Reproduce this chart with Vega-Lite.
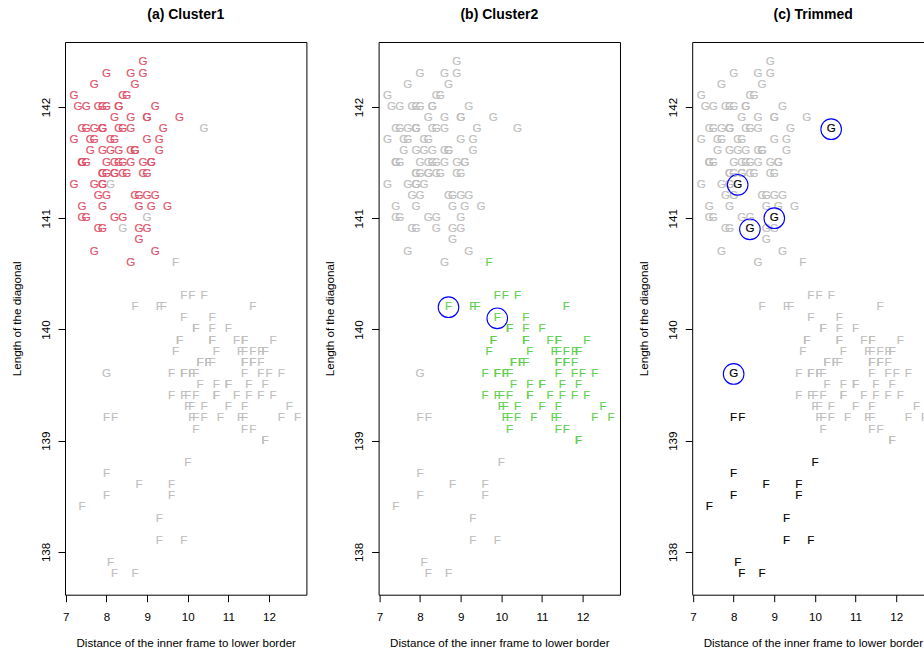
{
  "$schema": "https://vega.github.io/schema/vega-lite/v6.json",
  "padding": {"left": 10, "top": 7, "right": 0, "bottom": 0},
  "spacing": 71.6,
  "bounds": "flush",
  "resolve": {"scale": {"color": "independent", "stroke": "independent", "x": "independent", "y": "independent"}},
  "config": {
    "font": "Liberation Sans",
    "view": {"stroke": "#000000", "strokeWidth": 1},
    "axis": {"grid": false, "domainColor": "#000000", "domainWidth": 1, "ticks": true, "tickColor": "#000000", "tickSize": 7, "tickWidth": 1, "labelFont": "Liberation Sans", "labelFontSize": 11.6, "labelColor": "#000000", "titleFont": "Liberation Sans", "titleFontSize": 11.6, "titleFontWeight": "normal", "titleColor": "#000000", "labelFlush": false, "labelOverlap": false},
    "axisY": {"labelAngle": 270, "labelAlign": "center", "labelBaseline": "alphabetic", "labelPadding": 9, "titleAngle": 270, "titleAlign": "center", "titleBaseline": "alphabetic", "titleX": -44.7, "titleY": 276.35},
    "title": {"font": "Liberation Sans", "fontSize": 14, "fontWeight": "bold", "color": "#000000", "baseline": "alphabetic", "offset": 20.3}
  },
  "datasets": {
    "notes": [
      {"x":8.1,"y":141.7,"l":"G","g":"C1"},{"x":8.7,"y":142.2,"l":"G","g":"C1"},{"x":7.5,"y":142.0,"l":"G","g":"C1"},{"x":9.0,"y":141.4,"l":"G","g":"C1"},{"x":7.9,"y":141.6,"l":"G","g":"C1"},
      {"x":7.2,"y":141.7,"l":"G","g":"C1"},{"x":8.2,"y":141.9,"l":"G","g":"C1"},{"x":9.2,"y":140.7,"l":"G","g":"C1"},{"x":7.9,"y":141.8,"l":"G","g":"C1"},{"x":7.7,"y":142.2,"l":"G","g":"C1"},
      {"x":7.9,"y":141.4,"l":"G","g":"C1"},{"x":7.7,"y":141.7,"l":"G","g":"C1"},{"x":7.7,"y":141.8,"l":"G","g":"C1"},{"x":9.3,"y":141.6,"l":"G","g":"C1"},{"x":8.2,"y":141.7,"l":"G","g":"C1"},
      {"x":9.0,"y":141.9,"l":"G","g":"C1"},{"x":7.4,"y":141.5,"l":"G","g":"C1"},{"x":8.6,"y":141.9,"l":"G","g":"C1"},{"x":8.4,"y":141.4,"l":"G","g":"C1"},{"x":8.1,"y":141.6,"l":"G","g":"C1"},
      {"x":8.4,"y":141.5,"l":"G","g":"C1"},{"x":8.7,"y":141.6,"l":"G","g":"C1"},{"x":7.4,"y":141.1,"l":"G","g":"C1"},{"x":8.0,"y":142.3,"l":"G","g":"C1"},{"x":8.9,"y":142.4,"l":"G","g":"C1"},
      {"x":9.8,"y":141.9,"l":"G","g":"C1"},{"x":7.4,"y":141.8,"l":"G","g":"C1"},{"x":8.3,"y":142.0,"l":"G","g":"C1"},{"x":7.9,"y":141.8,"l":"G","g":"C1"},{"x":8.6,"y":142.3,"l":"G","g":"C1"},
      {"x":7.7,"y":140.7,"l":"G","g":"C1"},{"x":8.4,"y":141.0,"l":"G","g":"C1"},{"x":8.9,"y":141.4,"l":"G","g":"C1"},{"x":9.4,"y":141.8,"l":"G","g":"C1"},{"x":8.4,"y":141.8,"l":"G","g":"C1"},
      {"x":7.9,"y":142.0,"l":"G","g":"C1"},{"x":8.5,"y":142.1,"l":"G","g":"C1"},{"x":8.9,"y":142.3,"l":"G","g":"C1"},{"x":8.8,"y":140.9,"l":"G","g":"C1"},{"x":9.3,"y":141.7,"l":"G","g":"C1"},
      {"x":9.0,"y":140.9,"l":"G","g":"C1"},{"x":8.2,"y":141.0,"l":"G","g":"C1"},{"x":8.3,"y":141.8,"l":"G","g":"C1"},{"x":8.3,"y":141.5,"l":"G","g":"C1"},{"x":7.3,"y":142.0,"l":"G","g":"C1"},
      {"x":7.9,"y":141.1,"l":"G","g":"C1"},{"x":7.8,"y":142.0,"l":"G","g":"C1"},{"x":7.2,"y":141.3,"l":"G","g":"C1"},{"x":9.5,"y":141.1,"l":"G","g":"C1"},{"x":7.8,"y":140.9,"l":"G","g":"C1"},
      {"x":7.6,"y":141.6,"l":"G","g":"C1"},{"x":7.9,"y":141.4,"l":"G","g":"C1"},{"x":9.2,"y":142.0,"l":"G","g":"C1"},{"x":9.2,"y":141.2,"l":"G","g":"C1"},{"x":8.8,"y":141.1,"l":"G","g":"C1"},
      {"x":7.9,"y":141.3,"l":"G","g":"C1"},{"x":8.2,"y":141.4,"l":"G","g":"C1"},{"x":8.3,"y":141.6,"l":"G","g":"C1"},{"x":7.5,"y":141.5,"l":"G","g":"C1"},{"x":8.0,"y":141.5,"l":"G","g":"C1"},
      {"x":8.0,"y":141.4,"l":"G","g":"C1"},{"x":8.6,"y":141.5,"l":"G","g":"C1"},{"x":8.8,"y":140.8,"l":"G","g":"C1"},{"x":7.7,"y":141.3,"l":"G","g":"C1"},{"x":9.1,"y":141.5,"l":"G","g":"C1"},
      {"x":8.6,"y":141.8,"l":"G","g":"C1"},{"x":8.2,"y":141.4,"l":"G","g":"C1"},{"x":8.7,"y":141.2,"l":"G","g":"C1"},{"x":7.5,"y":141.8,"l":"G","g":"C1"},{"x":7.2,"y":142.1,"l":"G","g":"C1"},
      {"x":7.6,"y":141.7,"l":"G","g":"C1"},{"x":8.8,"y":141.2,"l":"G","g":"C1"},{"x":7.4,"y":141.0,"l":"G","g":"C1"},{"x":7.9,"y":140.9,"l":"G","g":"C1"},{"x":7.9,"y":141.8,"l":"G","g":"C1"},
      {"x":8.6,"y":140.6,"l":"G","g":"C1"},{"x":7.5,"y":141.0,"l":"G","g":"C1"},{"x":9.0,"y":141.9,"l":"G","g":"C1"},{"x":7.9,"y":141.3,"l":"G","g":"C1"},{"x":9.0,"y":141.2,"l":"G","g":"C1"},
      {"x":8.9,"y":141.5,"l":"G","g":"C1"},{"x":8.7,"y":141.6,"l":"G","g":"C1"},{"x":8.4,"y":142.1,"l":"G","g":"C1"},{"x":7.4,"y":141.5,"l":"G","g":"C1"},{"x":8.0,"y":142.0,"l":"G","g":"C1"},
      {"x":8.6,"y":141.6,"l":"G","g":"C1"},{"x":8.5,"y":141.4,"l":"G","g":"C1"},{"x":8.2,"y":141.5,"l":"G","g":"C1"},{"x":7.4,"y":141.5,"l":"G","g":"C1"},{"x":8.3,"y":142.0,"l":"G","g":"C1"},
      {"x":9.0,"y":141.7,"l":"G","g":"C1"},{"x":9.1,"y":141.1,"l":"G","g":"C1"},{"x":8.0,"y":141.2,"l":"G","g":"C1"},{"x":9.1,"y":141.5,"l":"G","g":"C1"},{"x":7.8,"y":141.2,"l":"G","g":"C1"},

      {"x":9.7,"y":140.6,"l":"F","g":"C2"},
      {"x":9.9,"y":140.3,"l":"F","g":"C2"},{"x":10.1,"y":140.3,"l":"F","g":"C2"},{"x":10.4,"y":140.3,"l":"F","g":"C2"},
      {"x":8.7,"y":140.2,"l":"F","g":"C2o"},{"x":9.3,"y":140.2,"l":"F","g":"C2"},{"x":9.4,"y":140.2,"l":"F","g":"C2"},{"x":11.6,"y":140.2,"l":"F","g":"C2"},
      {"x":9.9,"y":140.1,"l":"F","g":"C2o"},{"x":10.6,"y":140.1,"l":"F","g":"C2"},
      {"x":10.2,"y":140.0,"l":"F","g":"C2"},{"x":10.2,"y":140.0,"l":"F","g":"C2"},{"x":10.6,"y":140.0,"l":"F","g":"C2"},{"x":11.0,"y":140.0,"l":"F","g":"C2"},
      {"x":9.8,"y":139.9,"l":"F","g":"C2"},{"x":9.8,"y":139.9,"l":"F","g":"C2"},{"x":10.6,"y":139.9,"l":"F","g":"C2"},{"x":10.6,"y":139.9,"l":"F","g":"C2"},{"x":11.2,"y":139.9,"l":"F","g":"C2"},{"x":11.4,"y":139.9,"l":"F","g":"C2"},{"x":11.4,"y":139.9,"l":"F","g":"C2"},{"x":12.1,"y":139.9,"l":"F","g":"C2"},
      {"x":9.7,"y":139.8,"l":"F","g":"C2"},{"x":10.7,"y":139.8,"l":"F","g":"C2"},{"x":11.3,"y":139.8,"l":"F","g":"C2"},{"x":11.4,"y":139.8,"l":"F","g":"C2"},{"x":11.6,"y":139.8,"l":"F","g":"C2"},{"x":11.8,"y":139.8,"l":"F","g":"C2"},{"x":11.9,"y":139.8,"l":"F","g":"C2"},{"x":11.9,"y":139.8,"l":"F","g":"C2"},
      {"x":10.3,"y":139.7,"l":"F","g":"C2"},{"x":10.3,"y":139.7,"l":"F","g":"C2"},{"x":10.5,"y":139.7,"l":"F","g":"C2"},{"x":10.5,"y":139.7,"l":"F","g":"C2"},{"x":10.6,"y":139.7,"l":"F","g":"C2"},{"x":11.4,"y":139.7,"l":"F","g":"C2"},{"x":11.4,"y":139.7,"l":"F","g":"C2"},{"x":11.6,"y":139.7,"l":"F","g":"C2"},{"x":11.6,"y":139.7,"l":"F","g":"C2"},{"x":11.8,"y":139.7,"l":"F","g":"C2"},
      {"x":9.6,"y":139.6,"l":"F","g":"C2"},{"x":9.9,"y":139.6,"l":"F","g":"C2"},{"x":9.9,"y":139.6,"l":"F","g":"C2"},{"x":10.1,"y":139.6,"l":"F","g":"C2"},{"x":10.1,"y":139.6,"l":"F","g":"C2"},{"x":10.2,"y":139.6,"l":"F","g":"C2"},{"x":11.4,"y":139.6,"l":"F","g":"C2"},{"x":11.8,"y":139.6,"l":"F","g":"C2"},{"x":12.0,"y":139.6,"l":"F","g":"C2"},{"x":12.3,"y":139.6,"l":"F","g":"C2"},
      {"x":10.3,"y":139.5,"l":"F","g":"C2"},{"x":10.7,"y":139.5,"l":"F","g":"C2"},{"x":11.0,"y":139.5,"l":"F","g":"C2"},{"x":11.0,"y":139.5,"l":"F","g":"C2"},{"x":11.5,"y":139.5,"l":"F","g":"C2"},{"x":11.9,"y":139.5,"l":"F","g":"C2"},
      {"x":9.6,"y":139.4,"l":"F","g":"C2"},{"x":9.9,"y":139.4,"l":"F","g":"C2"},{"x":10.0,"y":139.4,"l":"F","g":"C2"},{"x":10.2,"y":139.4,"l":"F","g":"C2"},{"x":10.7,"y":139.4,"l":"F","g":"C2"},{"x":10.7,"y":139.4,"l":"F","g":"C2"},{"x":11.2,"y":139.4,"l":"F","g":"C2"},{"x":11.5,"y":139.4,"l":"F","g":"C2"},{"x":11.8,"y":139.4,"l":"F","g":"C2"},{"x":12.1,"y":139.4,"l":"F","g":"C2"},
      {"x":10.0,"y":139.3,"l":"F","g":"C2"},{"x":10.1,"y":139.3,"l":"F","g":"C2"},{"x":10.4,"y":139.3,"l":"F","g":"C2"},{"x":11.0,"y":139.3,"l":"F","g":"C2"},{"x":11.4,"y":139.3,"l":"F","g":"C2"},{"x":12.5,"y":139.3,"l":"F","g":"C2"},
      {"x":8.0,"y":139.2,"l":"F","g":"C3"},{"x":8.2,"y":139.2,"l":"F","g":"C3"},{"x":10.1,"y":139.2,"l":"F","g":"C2"},{"x":10.2,"y":139.2,"l":"F","g":"C2"},{"x":10.4,"y":139.2,"l":"F","g":"C2"},{"x":10.8,"y":139.2,"l":"F","g":"C2"},{"x":11.3,"y":139.2,"l":"F","g":"C2"},{"x":11.4,"y":139.2,"l":"F","g":"C2"},{"x":12.3,"y":139.2,"l":"F","g":"C2"},{"x":12.7,"y":139.2,"l":"F","g":"C2"},
      {"x":10.2,"y":139.1,"l":"F","g":"C2"},{"x":11.4,"y":139.1,"l":"F","g":"C2"},{"x":11.6,"y":139.1,"l":"F","g":"C2"},
      {"x":11.9,"y":139.0,"l":"F","g":"C2"},{"x":11.9,"y":139.0,"l":"F","g":"C2"},
      {"x":10.0,"y":138.8,"l":"F","g":"C3"},{"x":8.0,"y":138.7,"l":"F","g":"C3"},{"x":8.8,"y":138.6,"l":"F","g":"C3"},{"x":9.6,"y":138.6,"l":"F","g":"C3"},{"x":8.0,"y":138.5,"l":"F","g":"C3"},
      {"x":9.6,"y":138.5,"l":"F","g":"C3"},{"x":7.4,"y":138.4,"l":"F","g":"C3"},{"x":9.3,"y":138.3,"l":"F","g":"C3"},{"x":9.3,"y":138.1,"l":"F","g":"C3"},{"x":9.9,"y":138.1,"l":"F","g":"C3"},
      {"x":8.1,"y":137.9,"l":"F","g":"C3"},{"x":8.2,"y":137.8,"l":"F","g":"C3"},{"x":8.7,"y":137.8,"l":"F","g":"C3"},

      {"x":9.0,"y":141.0,"l":"G","g":"T"},{"x":10.4,"y":141.8,"l":"G","g":"T"},{"x":8.1,"y":141.3,"l":"G","g":"T"},{"x":8.0,"y":139.6,"l":"G","g":"T"},{"x":8.4,"y":140.9,"l":"G","g":"T"}
    ]
  },
  "hconcat": [
    {
      "width": 241.4, "height": 552.7,
      "title": {"text": "(a) Cluster1"},
      "data": {"name": "notes"},
      "mark": {"type": "text", "font": "Liberation Sans", "fontSize": 11.6, "align": "center", "baseline": "middle", "strokeWidth": 0.15},
      "encoding": {
        "x": {"field": "x", "type": "quantitative", "scale": {"domain": [6.98, 12.92], "nice": false, "zero": false}, "axis": {"values": [7, 8, 9, 10, 11, 12], "format": "d", "domain": false, "labelBaseline": "top", "labelPadding": 9.8, "titleBaseline": "alphabetic", "titleY": 51.5, "title": "Distance of the inner frame to lower border"}},
        "y": {"field": "y", "type": "quantitative", "scale": {"domain": [137.616, 142.584], "nice": false, "zero": false}, "axis": {"values": [138, 139, 140, 141, 142], "format": "d", "domain": false, "title": "Length of the diagonal"}},
        "text": {"field": "l"},
        "color": {"field": "g", "type": "nominal", "scale": {"domain": ["C1", "C2", "C2o", "C3", "T"], "range": ["#DF536B", "#BEBEBE", "#BEBEBE", "#BEBEBE", "#BEBEBE"]}, "legend": null},
        "stroke": {"field": "g", "type": "nominal", "scale": {"domain": ["C1", "C2", "C2o", "C3", "T"], "range": ["#DF536B", "#BEBEBE", "#BEBEBE", "#BEBEBE", "#BEBEBE"]}, "legend": null}
      }
    },
    {
      "width": 241.4, "height": 552.7,
      "title": {"text": "(b) Cluster2"},
      "data": {"name": "notes"},
      "layer": [
        {
          "mark": {"type": "text", "font": "Liberation Sans", "fontSize": 11.6, "align": "center", "baseline": "middle", "strokeWidth": 0.15},
          "encoding": {
            "x": {"field": "x", "type": "quantitative", "scale": {"domain": [6.98, 12.92], "nice": false, "zero": false}, "axis": {"values": [7, 8, 9, 10, 11, 12], "format": "d", "domain": false, "labelBaseline": "top", "labelPadding": 9.8, "titleBaseline": "alphabetic", "titleY": 51.5, "title": "Distance of the inner frame to lower border"}},
            "y": {"field": "y", "type": "quantitative", "scale": {"domain": [137.616, 142.584], "nice": false, "zero": false}, "axis": {"values": [138, 139, 140, 141, 142], "format": "d", "domain": false, "title": "Length of the diagonal"}},
            "text": {"field": "l"},
            "color": {"field": "g", "type": "nominal", "scale": {"domain": ["C1", "C2", "C2o", "C3", "T"], "range": ["#BEBEBE", "#61D04F", "#61D04F", "#BEBEBE", "#BEBEBE"]}, "legend": null},
            "stroke": {"field": "g", "type": "nominal", "scale": {"domain": ["C1", "C2", "C2o", "C3", "T"], "range": ["#BEBEBE", "#61D04F", "#61D04F", "#BEBEBE", "#BEBEBE"]}, "legend": null}
          }
        },
        {
          "transform": [{"filter": "datum.g === 'C2o'"}],
          "mark": {"type": "point", "shape": "circle", "size": 424, "filled": false, "color": "#0000FF", "strokeWidth": 1.1, "opacity": 1},
          "encoding": {
            "x": {"field": "x", "type": "quantitative"},
            "y": {"field": "y", "type": "quantitative"}
          }
        }
      ]
    },
    {
      "width": 232, "height": 552.7,
      "view": {"stroke": null},
      "title": {"text": "(c) Trimmed", "dx": 4.9},
      "data": {"name": "notes"},
      "layer": [
        {
          "mark": {"type": "text", "font": "Liberation Sans", "fontSize": 11.6, "align": "center", "baseline": "middle", "clip": true, "strokeWidth": 0.15},
          "encoding": {
            "x": {"field": "x", "type": "quantitative", "scale": {"domain": [6.98, 12.689], "nice": false, "zero": false}, "axis": {"values": [7, 8, 9, 10, 11, 12], "format": "d", "labelBaseline": "top", "labelPadding": 9.8, "titleBaseline": "alphabetic", "titleY": 51.5, "titleX": 120.7, "title": "Distance of the inner frame to lower border"}},
            "y": {"field": "y", "type": "quantitative", "scale": {"domain": [137.616, 142.584], "nice": false, "zero": false}, "axis": {"values": [138, 139, 140, 141, 142], "format": "d", "title": "Length of the diagonal"}},
            "text": {"field": "l"},
            "color": {"field": "g", "type": "nominal", "scale": {"domain": ["C1", "C2", "C2o", "C3", "T"], "range": ["#BEBEBE", "#BEBEBE", "#BEBEBE", "#000000", "#000000"]}, "legend": null},
            "stroke": {"field": "g", "type": "nominal", "scale": {"domain": ["C1", "C2", "C2o", "C3", "T"], "range": ["#BEBEBE", "#BEBEBE", "#BEBEBE", "#000000", "#000000"]}, "legend": null}
          }
        },
        {
          "transform": [{"filter": "datum.g === 'T'"}],
          "mark": {"type": "point", "shape": "circle", "size": 424, "filled": false, "color": "#0000FF", "strokeWidth": 1.1, "opacity": 1},
          "encoding": {
            "x": {"field": "x", "type": "quantitative", "axis": {"orient": "top", "labels": false, "ticks": false, "title": null}},
            "y": {"field": "y", "type": "quantitative"}
          }
        }
      ],
      "resolve": {"axis": {"x": "independent"}}
    }
  ]
}
